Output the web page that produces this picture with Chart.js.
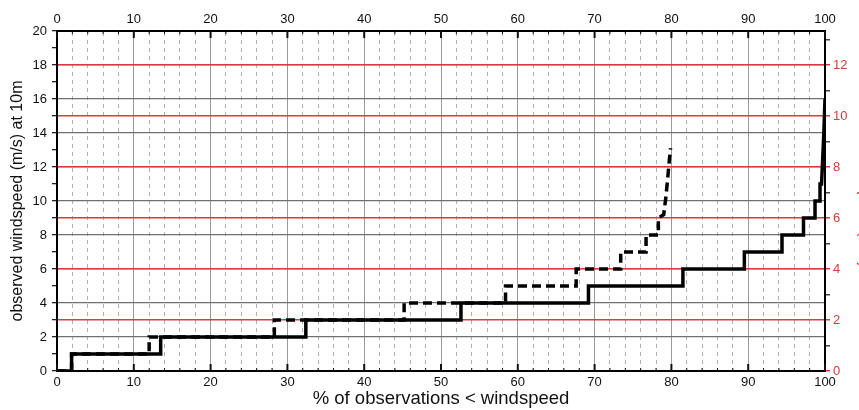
<!DOCTYPE html>
<html>
<head>
<meta charset="utf-8">
<script src="https://cdn.jsdelivr.net/npm/chart.js@4.4.1/dist/chart.umd.min.js"></script>
<style>
  html, body { margin: 0; padding: 0; background: #fff; overflow: hidden; }
  #wrap { width: 874px; height: 410px; }
</style>
</head>
<body>
<div id="wrap"><canvas id="cdfChart"></canvas></div>
<script>
// step curves (x = % of observations, y = windspeed)
const observedPct   = [0, 1.9, 1.9, 13.5, 13.5, 32.4, 32.4, 52.6, 52.6, 69.2, 69.2, 81.5, 81.5, 89.5, 89.5, 94.4, 94.4, 97.2, 97.2, 98.7, 98.7, 99.35, 99.35, 99.55, 99.7, 99.85, 100];
const observedSpeed = [0, 0,   1,   1,    2,    2,    3,    3,    4,    4,    5,    5,    6,    6,    7,    7,    8,    8,    9,    9,    10,   10,    11,    11,    12.5, 14,    16];

const modelPct   = [0, 1.9, 1.9, 12.0, 12.0, 28.3, 28.3, 45.2, 45.2, 58.4, 58.4, 67.6, 67.6, 73.4, 73.4, 76.7, 76.7, 78.3, 78.3, 79.0, 79.3, 79.55, 79.75, 79.9];
const modelSpeed = [0, 0,   1,   1,    2,    2,    3,    3,    4,    4,    5,    5,    6,    6,    7,    7,    8,    8,    9,    9.2,  10.3, 11.5,  12.5,  13.1];

const pctTickLabels   = [0, 10, 20, 30, 40, 50, 60, 70, 80, 90, 100];
const speedTickLabels = [0, 2, 4, 6, 8, 10, 12, 14, 16, 18, 20];
const rightTickLabels = [0, 2, 4, 6, 8, 10, 12];

const RED = '#d93a3a';
const FONT = 'Liberation Sans, Arial, sans-serif';

const toPoints = (xs, ys) => xs.map((x, i) => ({ x: x, y: ys[i] }));

// short tick marks pointing into the plot on top and bottom
const innerTicks = {
  id: 'innerTicks',
  afterDraw(chart) {
    const ctx = chart.ctx;
    const area = chart.chartArea;
    const xs = chart.scales.x;
    ctx.save();
    ctx.strokeStyle = '#111';
    for (let v = 0; v <= 100; v += 2) {
      const px = xs.getPixelForValue(v);
      const major = pctTickLabels.includes(v);
      const len = major ? 7 : 3;
      ctx.lineWidth = major ? 2 : 1;
      ctx.beginPath();
      ctx.moveTo(px, area.bottom);
      ctx.lineTo(px, area.bottom - len);
      ctx.moveTo(px, area.top);
      ctx.lineTo(px, area.top + len);
      ctx.stroke();
    }
    ctx.restore();
  }
};

const ctx = document.getElementById('cdfChart').getContext('2d');

const cdfChart = new Chart(ctx, {
  type: 'line',
  data: {
    datasets: [{
      label: 'observed',
      data: toPoints(observedPct, observedSpeed),
      borderColor: '#000',
      borderWidth: 3.5,
      pointRadius: 0,
      tension: 0,
      yAxisID: 'y'
    }, {
      label: 'model',
      data: toPoints(modelPct, modelSpeed),
      borderColor: '#000',
      borderWidth: 3.5,
      borderDash: [9, 5],
      pointRadius: 0,
      tension: 0,
      yAxisID: 'y'
    }]
  },
  options: {
    responsive: true,
    maintainAspectRatio: false,
    animation: false,
    layout: { padding: 0 },
    plugins: {
      legend: { display: false },
      tooltip: { enabled: false }
    },
    scales: {
      x: {
        type: 'linear',
        position: 'bottom',
        min: 0,
        max: 100,
        ticks: {
          stepSize: 10,
          padding: 4,
          color: '#111',
          font: { family: FONT, size: 13 },
          maxRotation: 0
        },
        grid: { color: '#9a9a9a', lineWidth: 1, drawTicks: false },
        border: { color: '#000', width: 2 },
        title: {
          display: true,
          text: '% of observations < windspeed',
          color: '#111',
          font: { family: FONT, size: 18.5 },
          padding: { top: 0, bottom: 0 }
        },
        afterFit: (scale) => { scale.height = 39; }
      },
      x2: {
        type: 'linear',
        position: 'top',
        min: 0,
        max: 100,
        ticks: {
          stepSize: 2,
          padding: 4,
          autoSkip: false,
          maxRotation: 0,
          color: '#111',
          font: { family: FONT, size: 13 },
          callback: (v) => pctTickLabels.includes(v) ? v : ''
        },
        grid: {
          color: (c) => pctTickLabels.includes(c.tick.value) ? 'rgba(0,0,0,0)' : '#b0b0b0',
          lineWidth: 1,
          drawTicks: false
        },
        border: { color: '#000', width: 2, dash: [4, 4] },
        afterFit: (scale) => { scale.height = 31; }
      },
      y: {
        type: 'linear',
        position: 'left',
        min: 0,
        max: 20,
        ticks: {
          stepSize: 1,
          padding: 5,
          autoSkip: false,
          color: '#111',
          font: { family: FONT, size: 13 },
          callback: (v) => speedTickLabels.includes(v) ? v : ''
        },
        grid: {
          color: (c) => speedTickLabels.includes(c.tick.value) ? '#707070' : 'rgba(0,0,0,0)',
          lineWidth: 1.3,
          tickColor: '#222',
          tickLength: 5
        },
        border: { color: '#000', width: 2 },
        title: {
          display: true,
          text: 'observed windspeed (m/s) at 10m',
          color: '#111',
          font: { family: FONT, size: 16 },
          padding: { top: 8, bottom: 0 }
        },
        afterFit: (scale) => { scale.width = 57; }
      },
      y2: {
        type: 'linear',
        position: 'right',
        min: 0,
        max: 40 / 3,
        ticks: {
          stepSize: 1,
          includeBounds: false,
          padding: 3,
          autoSkip: false,
          color: RED,
          font: { family: FONT, size: 13 },
          callback: (v) => rightTickLabels.includes(v) ? v : ''
        },
        grid: {
          color: (c) => rightTickLabels.includes(c.tick.value) ? RED : 'rgba(0,0,0,0)',
          lineWidth: 1.5,
          tickColor: (c) => rightTickLabels.includes(c.tick.value) ? RED : '#444',
          tickLength: 5
        },
        border: { color: '#000', width: 2 },
        title: {
          display: true,
          text: 'modelled windspeed (m/s) at 80m',
          color: RED,
          font: { family: FONT, size: 16 },
          padding: { top: 0, bottom: 0 }
        },
        afterFit: (scale) => { scale.width = 49; }
      }
    }
  },
  plugins: [innerTicks]
});
</script>
</body>
</html>
